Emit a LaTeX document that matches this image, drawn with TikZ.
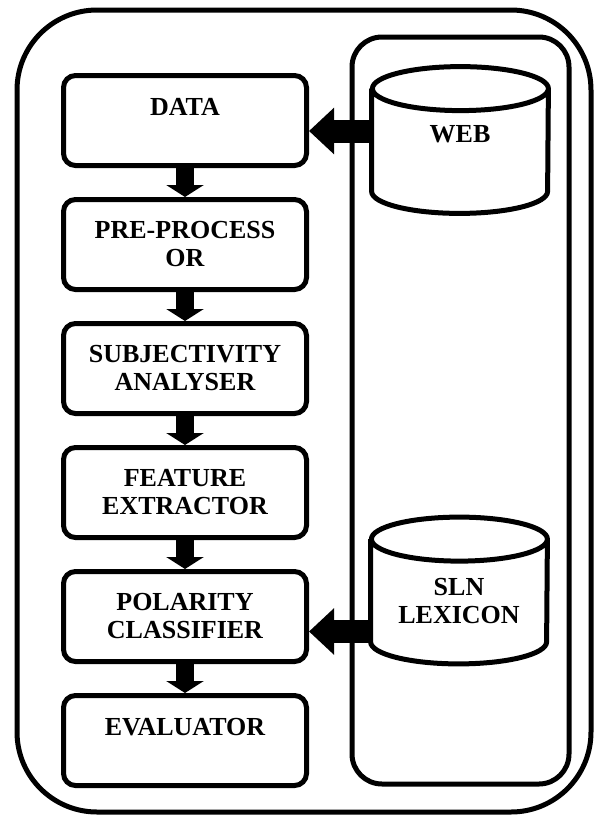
\documentclass[tikz,border=0pt]{standalone}
\usepackage{fontspec}
\setmainfont{Liberation Serif}
\usetikzlibrary{arrows.meta,positioning}
\tikzset{
  font=\fontsize{13}{14}\selectfont\bfseries,
  stage/.style={
    draw, line width=2.5pt, rounded corners=6pt, fill=white,
    minimum width=121.5pt, minimum height=45pt, align=center, inner sep=0pt
  },
  store/.style={minimum width=88pt, minimum height=73pt, inner sep=0pt},
  storeline/.style={line width=2.5pt, line join=round},
  storetext/.style={align=center, inner sep=0pt},
  frame/.style={line width=2.5pt, rounded corners=40pt},
  panel/.style={line width=2.5pt, rounded corners=15pt},
  downarrow/.style={-{Triangle[length=6pt,width=18.5pt]}, line width=9pt},
  sidearrow/.style={-{Triangle[length=12.5pt,width=22.5pt]}, line width=11.5pt}
}
\begin{document}
\begin{tikzpicture}[x=0.5pt, y=-0.5pt, node distance=14.5pt]
  \useasboundingbox (0,0) rectangle (594,815);
  \draw[frame] (17,10) rectangle (591,812);
  \draw[panel] (352,37) rectangle (569,784);

  % processing chain
  \node[stage] (data) at (185,120.5) {DATA\\\phantom{X}};
  \node[stage, below=of data] (prep) {PRE-PROCESS\\OR};
  \node[stage, below=of prep] (subj) {SUBJECTIVITY\\ANALYSER};
  \node[stage, below=of subj] (feat) {FEATURE\\EXTRACTOR};
  \node[stage, below=of feat] (pol) {POLARITY\\CLASSIFIER};
  \node[stage, below=of pol] (eval) {EVALUATOR\\\phantom{X}};

  \draw[downarrow] (data) -- (prep);
  \draw[downarrow] (prep) -- (subj);
  \draw[downarrow] (subj) -- (feat);
  \draw[downarrow] (feat) -- (pol);
  \draw[downarrow] (pol) -- (eval);

  % resources (cylinders)
  \node[store] (web) at (460,140) {};
  \draw[storeline] ([yshift=-11pt]web.north west) -- ([yshift=11pt]web.south west)
    arc[start angle=180, end angle=360, x radius=44pt, y radius=11pt]
    -- ([yshift=-11pt]web.north east)
    arc[start angle=0, end angle=360, x radius=44pt, y radius=11pt];
  \node[storetext] (webtext) at ([yshift=3pt]web.center) {WEB};

  \node[store] (sln) at (459,590.5) {};
  \draw[storeline] ([yshift=-11pt]sln.north west) -- ([yshift=11pt]sln.south west)
    arc[start angle=180, end angle=360, x radius=44pt, y radius=11pt]
    -- ([yshift=-11pt]sln.north east)
    arc[start angle=0, end angle=360, x radius=44pt, y radius=11pt];
  \node[storetext] (slntext) at ([yshift=-5.25pt]sln.center) {SLN\\LEXICON};

  \draw[sidearrow] ([yshift=-5.25pt]data.east -| web.west) -- ([yshift=-5.25pt]data.east);
  \draw[sidearrow] ([yshift=-7.5pt]pol.east -| sln.west) -- ([yshift=-7.5pt]pol.east);
\end{tikzpicture}
\end{document}
